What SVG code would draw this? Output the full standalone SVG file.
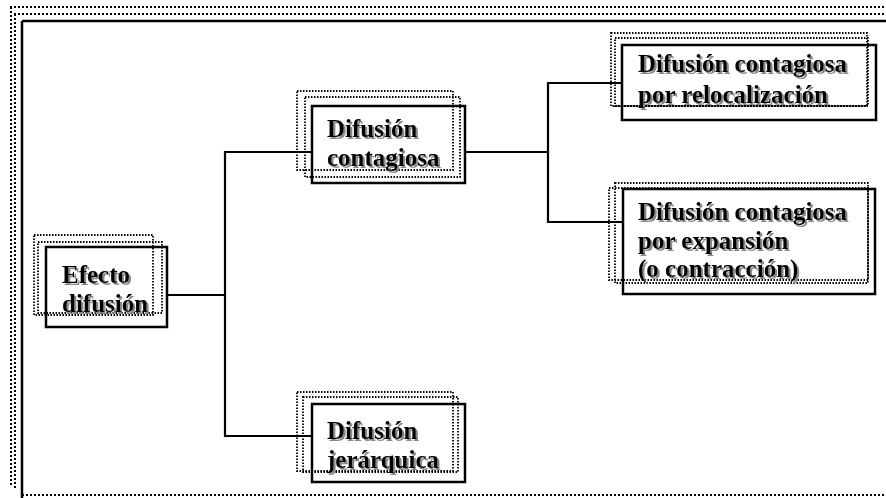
<svg xmlns="http://www.w3.org/2000/svg" width="886" height="498" viewBox="0 0 886 498">
<defs>
<filter id="sh" x="-10%" y="-10%" width="130%" height="140%">
<feDropShadow dx="2" dy="2" stdDeviation="0.4" flood-color="#8a8a8a" flood-opacity="1"/>
</filter>
</defs>
<style>
.frame{fill:none;stroke:#000;stroke-width:2.5}
.fdot{fill:none;stroke:#000;stroke-width:2;stroke-dasharray:2 2}
.box{fill:none;stroke:#000;stroke-width:2.5}
.dot{fill:none;stroke:#000;stroke-width:1.8;stroke-dasharray:1.5 1.5}
.conn{fill:none;stroke:#000;stroke-width:2.2}
text{font-family:"Liberation Serif","Times New Roman",serif;font-weight:bold;font-size:25px;fill:#000;filter:url(#sh)}
</style>
<rect width="886" height="498" fill="#fff"/>
<g id="frame">
<line class="fdot" x1="10" y1="7" x2="886" y2="7"/>
<line class="fdot" x1="14" y1="14" x2="886" y2="14"/>
<line class="fdot" x1="11" y1="7" x2="11" y2="487"/>
<line class="fdot" x1="15" y1="14" x2="15" y2="490"/>
<line class="frame" x1="22" y1="21" x2="886" y2="21"/>
<line class="frame" x1="22" y1="21" x2="22" y2="498"/>
<line class="fdot" x1="22" y1="495" x2="886" y2="495"/>
</g>
<g id="connectors">
<polyline class="conn" points="167,295 225,295"/>
<polyline class="conn" points="312,152 225,152 225,436 312,436"/>
<polyline class="conn" points="465,152 548,152"/>
<polyline class="conn" points="622,83 548,83 548,222 623,222"/>
</g>
<g id="efecto">
<rect class="dot" x="34" y="235" width="119" height="80"/>
<rect class="dot" x="38" y="242" width="124" height="71"/>
<rect class="box" x="46" y="247" width="121" height="80"/>
<text x="62" y="283">Efecto</text>
<text x="62" y="312">difusión</text>
</g>
<g id="contagiosa">
<rect class="dot" x="297" y="91" width="156" height="79"/>
<rect class="dot" x="305" y="97" width="155" height="80"/>
<rect class="box" x="312" y="106" width="153" height="77"/>
<text x="327" y="137">Difusión</text>
<text x="327" y="166">contagiosa</text>
</g>
<g id="relocalizacion">
<rect class="dot" x="611" y="33" width="256" height="73"/>
<rect class="dot" x="615" y="38" width="253" height="68"/>
<rect class="box" x="622" y="45" width="254" height="75"/>
<text x="638" y="72">Difusión contagiosa</text>
<text x="638" y="103">por relocalización</text>
</g>
<g id="expansion">
<rect class="dot" x="615" y="183" width="253" height="100"/>
<rect class="dot" x="609" y="188" width="259" height="92"/>
<rect class="box" x="623" y="189" width="252" height="105"/>
<text x="638" y="220">Difusión contagiosa</text>
<text x="638" y="249">por expansión</text>
<text x="638" y="277">(o contracción)</text>
</g>
<g id="jerarquica">
<rect class="dot" x="303" y="397" width="155" height="75"/>
<rect class="dot" x="297" y="392" width="156" height="79"/>
<rect class="box" x="312" y="404" width="153" height="78"/>
<text x="327" y="439">Difusión</text>
<text x="327" y="468">jerárquica</text>
</g>
</svg>
